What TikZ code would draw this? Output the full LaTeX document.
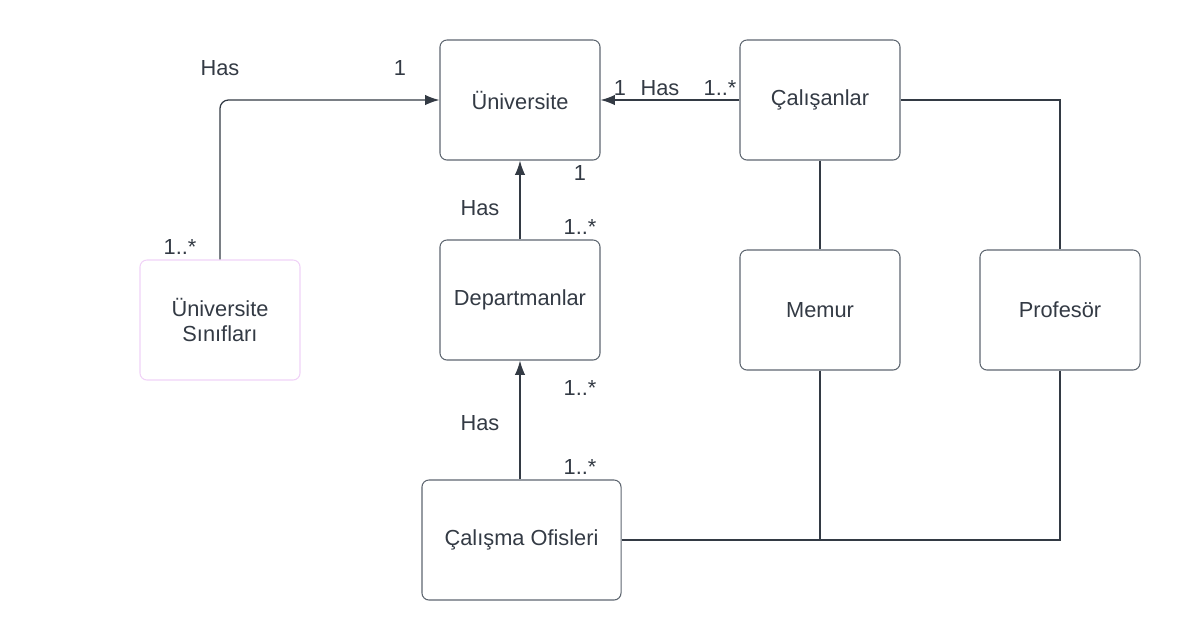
\documentclass[tikz,border=0pt]{standalone}
\usepackage{fontspec}
\setmainfont{Liberation Sans}
\usepackage{xcolor}
\usetikzlibrary{arrows.meta,positioning}

\definecolor{linegray}{HTML}{333A44}
\definecolor{boxgray}{HTML}{5E6670}
\definecolor{pinkline}{HTML}{F0D2F7}

\begin{document}
\begin{tikzpicture}[
  x=0.025cm, y=-0.025cm,
  every node/.style={font=\fontsize{15.5}{18}\selectfont, text=linegray},
  entity/.style={draw=boxgray, line width=0.75pt, rounded corners=5pt,
                 minimum width=4cm, minimum height=3cm, align=center},
  tag/.style={inner sep=1pt},
  arrow/.style={-{Latex[length=3.6mm, width=2.6mm]}, draw=linegray, line width=0.9pt},
  link/.style={draw=linegray, line width=0.9pt}
]
  \useasboundingbox (0,0) rectangle (1180,640);

  \node[entity] (uni) at (520,100) {Üniversite};
  \node[entity] (staff) at (820,100) {Çalışanlar};
  \node[entity] (dept) at (520,300) {Departmanlar};
  \node[entity] (clerk) at (820,310) {Memur};
  \node[entity] (prof) at (1060,310) {Profesör};
  \node[entity, draw=pinkline] (classes) at (220,320) {Üniversite\\Sınıfları};
  \node[entity, minimum width=4.975cm] (office) at (521.5,540) {Çalışma Ofisleri};

  % associations
  \draw[arrow, rounded corners=6pt] (classes.north) |- (uni.west);
  \draw[arrow] (staff.west) -- (uni.east);
  \draw[arrow] (dept.north) -- (uni.south);
  \draw[arrow] (office.north -| dept.south) -- (dept.south);

  % staff kinds
  \draw[link] (staff.south) -- (clerk.north);
  \draw[link] (staff.east) -| (prof.north);
  \draw[link] (office.east) -| (prof.south);
  \draw[link] (clerk.south) -- (clerk.south |- office.east);

  % multiplicities
  \node[tag] (hasA) at (220,68) {Has};
  \node[tag] (oneA) at (400,68) {1};
  \node[tag] (manyA) at (180,247) {1..*};
  \node[tag] (oneB) at (620,88) {1};
  \node[tag] (hasB) at (660,88) {Has};
  \node[tag] (manyB) at (720,88) {1..*};
  \node[tag] (oneC) at (580,173) {1};
  \node[tag] (hasC) at (480,208) {Has};
  \node[tag] (manyC) at (580,227) {1..*};
  \node[tag] (manyD) at (580,388) {1..*};
  \node[tag] (hasD) at (480,423) {Has};
  \node[tag] (manyE) at (580,467) {1..*};
\end{tikzpicture}
\end{document}
